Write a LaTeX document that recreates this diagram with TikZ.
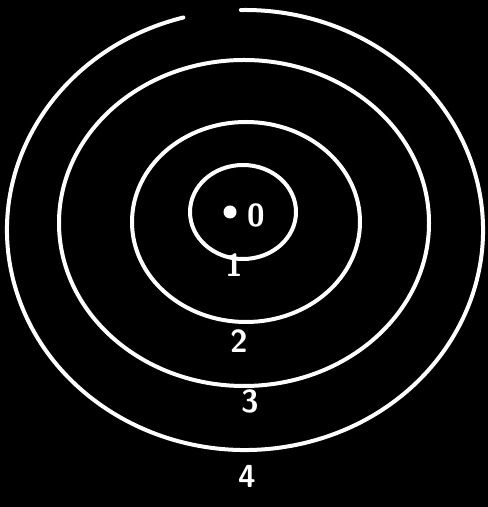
\documentclass[tikz,border=0pt]{standalone}
\usepackage{tikz}
\definecolor{chalk}{HTML}{FFFFFF}

\begin{document}
\begin{tikzpicture}[x=1bp, y=1bp, line width=4bp, line cap=round,
  ringlabel/.style={text=chalk, font=\sffamily\bfseries\fontsize{32}{32}\selectfont, inner sep=0pt}]
  % board
  \fill[black] (0,0) rectangle (488,507);
  \useasboundingbox (0,0) rectangle (488,507);
  % inner rings
  \foreach \cx/\cy/\rx/\ry in {243/295/53/47, 246/285/114/100, 244/284/185/163}{
    \draw[chalk] (\cx,\cy) ellipse [x radius=\rx, y radius=\ry];
  }
  % outer ring, open at the top
  \draw[chalk] (245,277) ++(105:238 and 220) arc [start angle=105, end angle=451, x radius=238, y radius=220];
  % centre point and labels
  \fill[chalk] (230,295) circle [radius=6.5];
  \node[ringlabel] (lab0) at (256,292) {0};
  \node[ringlabel] (lab1) at (234,242) {1};
  \node[ringlabel] (lab2) at (239,166) {2};
  \node[ringlabel] (lab3) at (250,106) {3};
  \node[ringlabel] (lab4) at (247,31) {4};
\end{tikzpicture}
\end{document}
